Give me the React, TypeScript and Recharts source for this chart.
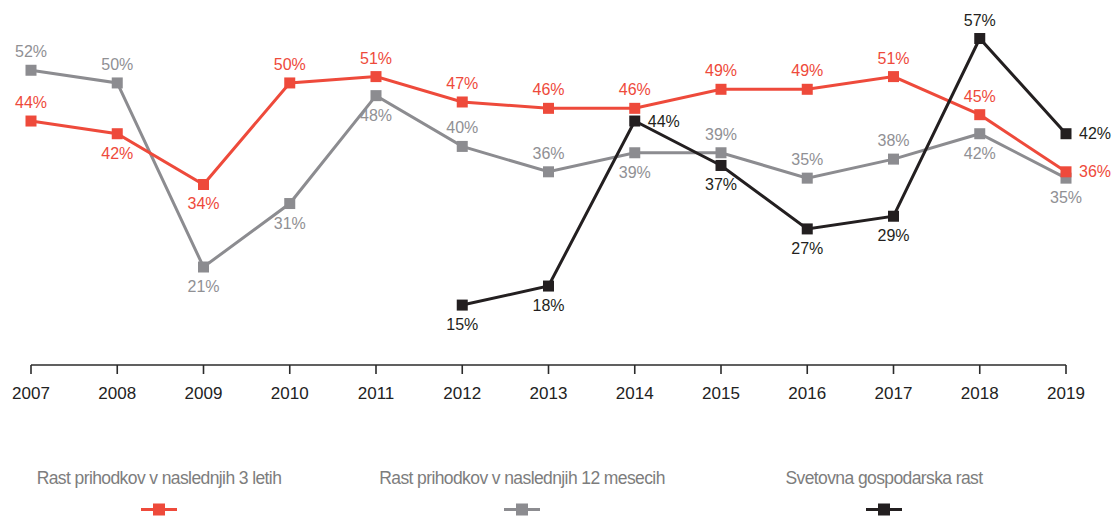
import { LineChart, Line, XAxis, YAxis, LabelList } from 'recharts';

const YEARS = ['2007', '2008', '2009', '2010', '2011', '2012', '2013', '2014', '2015', '2016', '2017', '2018', '2019'];
const REVENUE_3Y = [44, 42, 34, 50, 51, 47, 46, 46, 49, 49, 51, 45, 36];
const REVENUE_12M = [52, 50, 21, 31, 48, 40, 36, 39, 39, 35, 38, 42, 35];
const WORLD_GROWTH = [null, null, null, null, null, 15, 18, 44, 37, 27, 29, 57, 42];

const SERIES_NAMES = [
  'Rast prihodkov v naslednjih 3 letih',
  'Rast prihodkov v naslednjih 12 mesecih',
  'Svetovna gospodarska rast',
];

// where each value label sits relative to its marker
const RED_POS = ['top', 'bottom', 'bottom', 'top', 'top', 'top', 'top', 'top', 'top', 'top', 'top', 'top', 'right'];
const GRAY_POS = ['top', 'top', 'bottom', 'bottom', 'bottom', 'top', 'top', 'bottom', 'top', 'top', 'top', 'bottom', 'bottom'];
const BLACK_POS = ['', '', '', '', '', 'bottom', 'bottom', 'right', 'bottom', 'bottom', 'bottom', 'top', 'right'];

const RED = '#ee4a3b';
const GRAY = '#8c8c90';
const GRAY_TEXT = '#909094';
const BLACK = '#231f20';
const FONT = '"Liberation Sans", Arial, Helvetica, sans-serif';

const rows = YEARS.map((year, i) => ({
  year,
  r3: REVENUE_3Y[i],
  r12: REVENUE_12M[i],
  world: WORLD_GROWTH[i],
}));

function squareDot(color: string) {
  return (props: any) => {
    const { cx, cy, index } = props;
    if (cx == null || cy == null || Number.isNaN(cy)) return <g key={`d-${index}`} />;
    return <rect key={`d-${index}`} x={cx - 5.5} y={cy - 5.5} width={11} height={11} fill={color} />;
  };
}

function valueLabel(color: string, positions: string[]) {
  return (props: any) => {
    const { x, y, value, index } = props;
    if (value == null || x == null || y == null) return null;
    const pos = positions[index];
    let tx = x;
    let ty = y;
    let anchor: 'middle' | 'start' = 'middle';
    if (pos === 'top') ty = y - 13;
    else if (pos === 'bottom') ty = y + 25;
    else {
      tx = x + 13;
      ty = y + 5.5;
      anchor = 'start';
    }
    return (
      <text x={tx} y={ty} textAnchor={anchor} fill={color} fontSize={16} fontFamily={FONT}>
        {`${value}%`}
      </text>
    );
  };
}

function LegendItem({ label, color, center }: { label: string; color: string; center: number }) {
  return (
    <div style={{ position: 'absolute', left: center - 200, width: 400, top: 467, textAlign: 'center' }}>
      <div style={{ fontSize: 17.5, color: '#7d7d7d', fontFamily: FONT, letterSpacing: -0.6, lineHeight: '22px' }}>{label}</div>
      <svg width={40} height={13} style={{ display: 'block', margin: '14px auto 0' }}>
        <line x1={2} x2={38} y1={6.5} y2={6.5} stroke={color} strokeWidth={3} />
        <rect x={14} y={0.5} width={12} height={12} fill={color} />
      </svg>
    </div>
  );
}

export default function App() {
  return (
    <div style={{ position: 'absolute', left: 0, top: 0, width: 1115, height: 517, background: '#fff', fontFamily: FONT }}>
      <LineChart width={1115} height={430} data={rows} margin={{ top: 29, right: 49, bottom: 30, left: 31 }}>
        <XAxis
          dataKey="year"
          height={35}
          axisLine={{ stroke: '#2b2b2b', strokeWidth: 1.6 }}
          tickLine={{ stroke: '#2b2b2b', strokeWidth: 1.6 }}
          tickSize={9}
          tickMargin={13}
          tick={{ fill: '#222', fontSize: 17, fontFamily: FONT }}
          interval={0}
        />
        <YAxis hide domain={[5.56, 58.5]} allowDataOverflow />
        <Line
          dataKey="r12"
          stroke={GRAY}
          strokeWidth={3}
          dot={squareDot(GRAY)}
          activeDot={false}
          isAnimationActive={false}
        >
          <LabelList dataKey="r12" content={valueLabel(GRAY_TEXT, GRAY_POS)} />
        </Line>
        <Line
          dataKey="r3"
          stroke={RED}
          strokeWidth={3}
          dot={squareDot(RED)}
          activeDot={false}
          isAnimationActive={false}
        >
          <LabelList dataKey="r3" content={valueLabel(RED, RED_POS)} />
        </Line>
        <Line
          dataKey="world"
          stroke={BLACK}
          strokeWidth={3}
          dot={squareDot(BLACK)}
          activeDot={false}
          isAnimationActive={false}
        >
          <LabelList dataKey="world" content={valueLabel(BLACK, BLACK_POS)} />
        </Line>
      </LineChart>
      <LegendItem label={SERIES_NAMES[0]} color={RED} center={159} />
      <LegendItem label={SERIES_NAMES[1]} color={GRAY} center={522} />
      <LegendItem label={SERIES_NAMES[2]} color={BLACK} center={884} />
    </div>
  );
}
